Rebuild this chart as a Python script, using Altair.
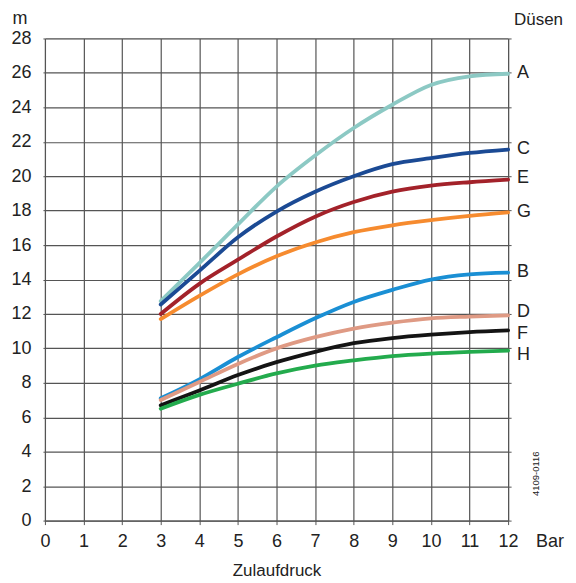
import altair as alt
import pandas as pd

pressure = [3, 4, 5, 6, 7, 8, 9, 10, 11, 12]
series_names = ["A", "C", "E", "G", "B", "D", "F", "H"]
series_colors = ["#8cc9c4", "#1b4a94", "#a3222a", "#f68b2f", "#1a8fd4", "#df9a84", "#141414", "#23ab4d"]
A = [12.75, 14.95, 17.2, 19.4, 21.2, 22.8, 24.15, 25.3, 25.8, 25.95]
C = [12.55, 14.5, 16.45, 17.95, 19.1, 20.0, 20.7, 21.05, 21.35, 21.55]
E = [12.0, 13.75, 15.15, 16.5, 17.65, 18.5, 19.1, 19.45, 19.65, 19.8]
G = [11.7, 13.05, 14.3, 15.35, 16.15, 16.75, 17.15, 17.45, 17.7, 17.9]
B = [7.1, 8.2, 9.5, 10.65, 11.75, 12.7, 13.4, 14.0, 14.3, 14.4]
D = [7.0, 8.05, 9.1, 10.0, 10.65, 11.15, 11.5, 11.75, 11.85, 11.92]
F = [6.7, 7.55, 8.45, 9.2, 9.8, 10.3, 10.6, 10.8, 10.95, 11.05]
H = [6.5, 7.3, 7.95, 8.55, 9.0, 9.3, 9.55, 9.7, 9.8, 9.87]
label_y = [26.0, 21.6, 19.9, 17.9, 14.45, 12.1, 10.85, 9.6]
x_ticks = list(range(0, 13))
y_ticks = list(range(0, 29, 2))

values = [A, C, E, G, B, D, F, H]
rows = []
for name, vals in zip(series_names, values):
    for p, v in zip(pressure, vals):
        rows.append({"p": p, "h": v, "s": name})
df = pd.DataFrame(rows)
lab = pd.DataFrame({"p": [12] * len(series_names), "h": label_y, "s": series_names})
one = pd.DataFrame({"k": [0]})

FONT = "Liberation Sans"
TXT = "#222222"
GRID = "#555555"
FS = 18
xs = alt.Scale(domain=[0, 12], nice=False, zero=False)
ys = alt.Scale(domain=[0, 28], nice=False)
cs = alt.Scale(domain=series_names, range=series_colors)

X_AX = alt.Axis(values=x_ticks, title="Zulaufdruck", grid=True, gridColor=GRID,
                gridWidth=1.2, tickSize=4, tickColor=GRID, domainColor=GRID,
                labelFontSize=FS, labelFont=FONT, labelColor=TXT, labelPadding=8,
                titleFont=FONT, titleFontSize=17, titleFontWeight="normal",
                titleColor=TXT, titlePadding=12, labelFlush=False, labelOverlap=False)
Y_AX = alt.Axis(values=y_ticks, title=None, grid=True, gridColor=GRID,
                gridWidth=1.2, tickSize=2, tickColor=GRID, domainColor=GRID,
                labelFontSize=FS, labelFont=FONT, labelColor=TXT, labelPadding=12,
                labelFlush=False, labelOverlap=False)
Y_RIGHT = alt.Axis(orient="right", values=y_ticks, labels=False, title=None, grid=False,
                   tickSize=3, tickColor=GRID, domainColor=GRID)

lines = alt.Chart(df).mark_line(strokeWidth=3.8, interpolate="monotone", strokeCap="round").encode(
    x=alt.X("p:Q", scale=xs, axis=X_AX),
    y=alt.Y("h:Q", scale=ys, axis=Y_AX),
    color=alt.Color("s:N", scale=cs, legend=None),
    detail="s:N",
)

labels = alt.Chart(lab).mark_text(align="left", baseline="middle", dx=9, fontSize=FS,
                                  font=FONT, color=TXT).encode(
    x=alt.X("p:Q", scale=xs, axis=X_AX), y=alt.Y("h:Q", scale=ys, axis=Y_AX), text="s:N")

right_axis = alt.Chart(lab).mark_point(opacity=0).encode(
    x=alt.X("p:Q", scale=xs, axis=X_AX),
    y=alt.Y("h:Q", scale=ys, axis=Y_RIGHT),
)

def free_text(txt, x, y, align="left", size=FS, angle=0):
    return alt.Chart(one).mark_text(text=txt, fontSize=size, font=FONT, color=TXT,
                                    align=align, baseline="middle", angle=angle).encode(
        x=alt.value(x), y=alt.value(y))

m_txt = free_text("m", -25, -19, align="center")
duesen = free_text("Düsen", 519, -18, align="right", size=17)
bar_txt = free_text("Bar", 492, 504)
code_txt = free_text("4109-0116", 492, 436, align="center", size=9.5, angle=270)

left = alt.layer(lines, labels)
chart = alt.layer(left, right_axis, m_txt, duesen, bar_txt, code_txt).resolve_axis(
    y="independent").properties(
    width=464, height=483,
    autosize=alt.AutoSizeParams(type="none"),
    padding={"left": 37, "top": 30, "right": 60, "bottom": 60},
).configure_view(stroke=None).configure(background="white")

chart.save("out.html", embed_options={"renderer": "svg", "actions": False})
